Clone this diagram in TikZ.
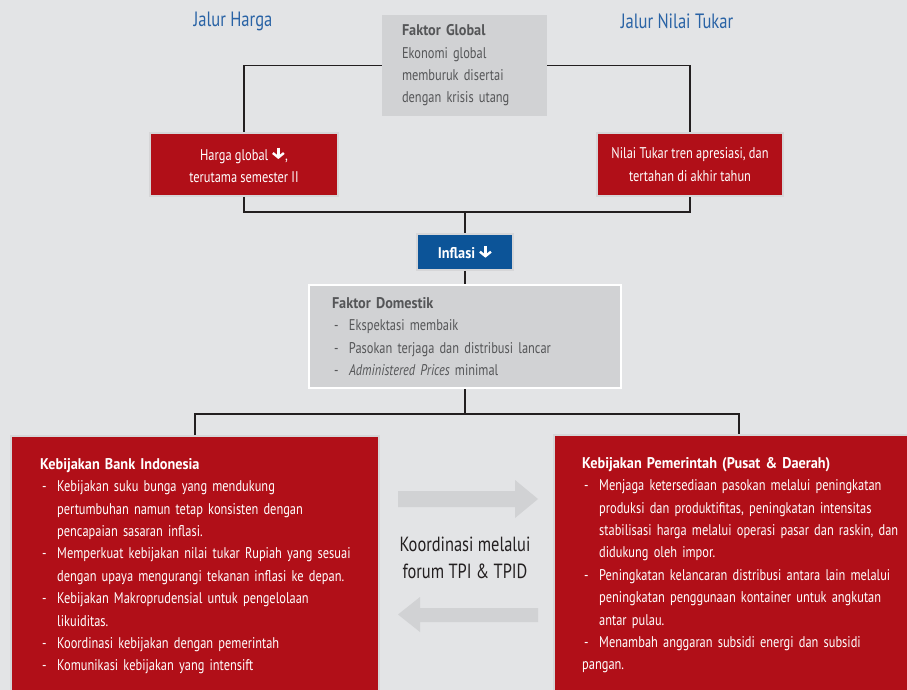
\documentclass[tikz,border=0pt]{standalone}
\usepackage{fontspec}
\setmainfont{PT Sans}[FakeStretch=0.80,BoldFeatures={FakeStretch=0.92}]
\usetikzlibrary{arrows.meta}

\definecolor{bankred}{RGB}{177,15,24}
\definecolor{inflblue}{RGB}{12,84,152}
\definecolor{headblue}{RGB}{40,98,165}
\definecolor{boxgray}{RGB}{209,210,212}
\definecolor{txtgray}{RGB}{85,86,88}
\definecolor{linedark}{RGB}{35,31,32}
\definecolor{rimgray}{RGB}{214,214,216}
\definecolor{bggray}{RGB}{227,228,230}
\definecolor{bglight}{RGB}{249,249,249}

\newcommand\bodyfont{\fontsize{15.5}{22.4}\selectfont}
\newcommand\headfont{\fontsize{20.7}{24}\selectfont}
\newcommand\coordfont{\fontsize{20.5}{27}\selectfont}
\newcommand\dnarrow{\tikz[baseline=-0.5pt,x=1pt,y=1pt]\draw[white,line width=2.4pt,-{Straight Barb[length=4.5pt,width=11pt]}] (0,12)--(0,0.5);}
\newcommand\itm[1]{\par\noindent\hangindent=17pt\hangafter=1\hbox to 17pt{\hspace{2pt}-\hfil}#1}

\begin{document}
\begin{tikzpicture}[x=1pt,y=-1pt,
  link/.style={draw=linedark,line width=1.8pt},
  heading/.style={text=headblue,font=\headfont},
  redbox/.style={fill=bankred,draw=rimgray,line width=1.5pt,text=white,align=center,font=\bodyfont},
  graybox/.style={fill=boxgray,text=txtgray,align=left,font=\bodyfont},
  panel/.style={fill=bankred,draw=rimgray,line width=1.5pt,anchor=north west,minimum width=368pt,minimum height=280pt},
  paneltext/.style={text=white,anchor=north west,align=left,inner sep=0pt,font=\bodyfont,text width=340pt},
  blockarrow/.style={fill=boxgray}]
  \useasboundingbox (0,0) rectangle (907,690);
  \clip (0,0) rectangle (907,690);
  \shade[left color=bggray,middle color=bglight,right color=bggray] (0,0) rectangle (907,690);

  % headings
  \node[heading] (jharga) at (233,21) {Jalur Harga};
  \node[heading] (jtukar) at (677,21) {Jalur Nilai Tukar};

  % upper chain
  \node[graybox,minimum width=165pt,minimum height=101pt,text width=125pt,inner xsep=20pt] (glob) at (464.5,65.5)
    {\textbf{Faktor Global}\\Ekonomi global\\memburuk disertai\\dengan krisis utang};
  \node[redbox,minimum width=188pt,minimum height=63pt] (harga) at (244,164.5)
    {Harga global \dnarrow,\\terutama semester II};
  \node[redbox,minimum width=186pt,minimum height=63pt] (tukar) at (690,164.5)
    {Nilai Tukar tren apresiasi, dan\\tertahan di akhir tahun};
  \node[fill=inflblue,draw=rimgray,line width=1.5pt,text=white,font=\bodyfont\bfseries,
    minimum width=96pt,minimum height=36pt] (infl) at (465,252) {Inflasi \dnarrow};
  \node[graybox,draw=white,line width=2pt,minimum width=312pt,minimum height=103pt,
    text width=266pt,inner xsep=23pt] (dom) at (465,336.5)
    {\textbf{Faktor Domestik}%
     \itm{Ekspektasi membaik}%
     \itm{Pasokan terjaga dan distribusi lancar}%
     \itm{\textit{Administered Prices} minimal}};

  % policy panels
  \node[panel] (bi) at (10,435) {};
  \node[panel,minimum width=370pt] (pem) at (553,434) {};
  \node[paneltext] (bitext) at (40,458)
    {\textbf{Kebijakan Bank Indonesia}%
     \itm{Kebijakan suku bunga yang mendukung\newline pertumbuhan namun tetap konsisten dengan\newline pencapaian sasaran inflasi.}%
     \itm{Memperkuat kebijakan nilai tukar Rupiah yang sesuai\newline dengan upaya mengurangi tekanan inflasi ke depan.}%
     \itm{Kebijakan Makroprudensial untuk pengelolaan\newline likuiditas.}%
     \itm{Koordinasi kebijakan dengan pemerintah}%
     \itm{Komunikasi kebijakan yang intensift}};
  \node[paneltext] (pemtext) at (582,457)
    {\textbf{Kebijakan Pemerintah (Pusat \& Daerah)}%
     \itm{Menjaga ketersediaan pasokan melalui peningkatan\newline produksi dan produktifitas, peningkatan intensitas\newline stabilisasi harga melalui operasi pasar dan raskin, dan\newline didukung oleh impor.}%
     \itm{Peningkatan kelancaran distribusi antara lain melalui\newline peningkatan penggunaan kontainer untuk angkutan\newline antar pulau.}%
     \itm{Menambah anggaran subsidi energi dan subsidi\newline pangan.}};

  % connectors
  \draw[link] (glob) -| (harga);
  \draw[link] (glob) -| (tukar);
  \coordinate (jtop) at (465,212);
  \draw[link] (harga) |- (jtop) -| (tukar);
  \draw[link] (jtop) -- (infl);
  \draw[link] (infl) -- (dom);
  \coordinate (jbot) at (465,414);
  \draw[link] (dom) -- (jbot);
  \draw[link] (bi) |- (jbot) -| (pem);

  % coordination arrows
  \fill[blockarrow] (398,491) -- (515,491) -- (515,480) -- (538,499) -- (515,518) -- (515,507) -- (398,507) -- cycle;
  \fill[blockarrow] (538,608) -- (420,608) -- (420,597) -- (398,614.5) -- (420,632) -- (420,622) -- (538,622) -- cycle;
  \node[font=\coordfont,text=linedark,align=center] (koord) at (465,558) {Koordinasi melalui\\forum TPI \& TPID};
\end{tikzpicture}
\end{document}
